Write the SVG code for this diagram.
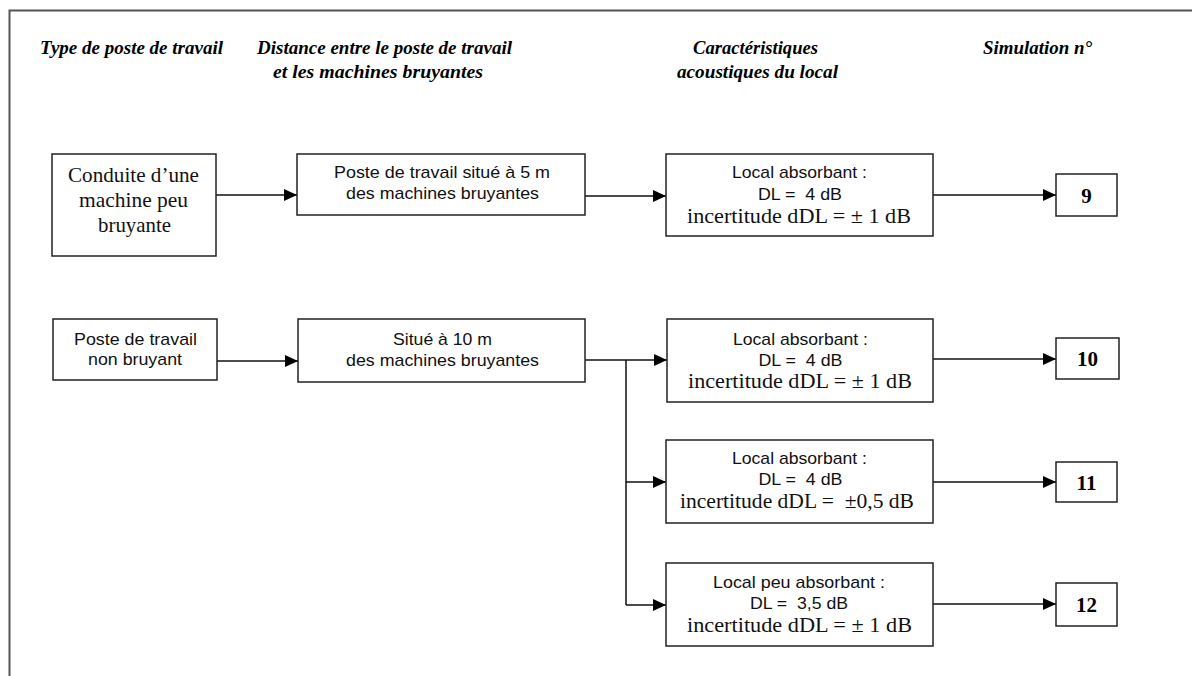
<svg xmlns="http://www.w3.org/2000/svg" width="1192" height="676" viewBox="0 0 1192 676">
<style>
.bg{fill:#fff}
.frame{stroke:#555;stroke-width:2;fill:none}
.box{fill:#fff;stroke:#222;stroke-width:1.5}
.hdr{font-family:"Liberation Serif",serif;font-weight:bold;font-style:italic;font-size:19.5px;fill:#000;text-anchor:middle}
.sans{font-family:"Liberation Sans",Arial,sans-serif;font-size:17px;fill:#111;text-anchor:middle}
.serif{font-family:"Liberation Serif",serif;font-size:21px;fill:#111;text-anchor:middle}
.num{font-family:"Liberation Serif",serif;font-weight:bold;font-size:21px;fill:#000;text-anchor:middle}
.conn{stroke:#111;stroke-width:1.5;fill:none}
.arr{marker-end:url(#ah)}
</style>
<defs>
<marker id="ah" markerUnits="userSpaceOnUse" markerWidth="14" markerHeight="12" refX="13" refY="6" orient="auto">
<path d="M0,0 L13,6 L0,12 Z" fill="#000"/>
</marker>
</defs>
<rect class="bg" x="0" y="0" width="1192" height="676"/>
<path class="frame" d="M9.5,676 L9.5,10.5 L1192,10.5"/>

<g id="headers">
<text class="hdr" x="131.5" y="54" textLength="183" lengthAdjust="spacingAndGlyphs">Type de poste de travail</text>
<text class="hdr" x="384.5" y="54" textLength="255" lengthAdjust="spacingAndGlyphs">Distance entre le poste de travail</text>
<text class="hdr" x="378" y="78" textLength="210" lengthAdjust="spacingAndGlyphs">et les machines bruyantes</text>
<text class="hdr" x="755.5" y="54" textLength="125" lengthAdjust="spacingAndGlyphs">Caractéristiques</text>
<text class="hdr" x="757.5" y="78" textLength="161" lengthAdjust="spacingAndGlyphs">acoustiques du local</text>
<text class="hdr" x="1037.5" y="54" textLength="109" lengthAdjust="spacingAndGlyphs">Simulation n°</text>
</g>

<g id="connectors">
<path class="conn arr" d="M216,195 L297,195"/>
<path class="conn arr" d="M585,196 L666,196"/>
<path class="conn arr" d="M933,195 L1056,195"/>
<path class="conn arr" d="M217,361 L298,361"/>
<path class="conn arr" d="M585,360 L667,360"/>
<path class="conn" d="M626,360 L626,605"/>
<path class="conn arr" d="M626,482 L666,482"/>
<path class="conn arr" d="M626,605 L666,605"/>
<path class="conn arr" d="M933,359 L1056,359"/>
<path class="conn arr" d="M933,482 L1056,482"/>
<path class="conn arr" d="M933,604 L1056,604"/>
</g>

<g id="n-conduite">
<rect class="box" x="52" y="154" width="164" height="102"/>
<text class="serif" x="133.5" y="182" textLength="131" lengthAdjust="spacingAndGlyphs">Conduite d’une</text>
<text class="serif" x="133.5" y="207" textLength="109" lengthAdjust="spacingAndGlyphs">machine peu</text>
<text class="serif" x="134.5" y="232" textLength="73" lengthAdjust="spacingAndGlyphs">bruyante</text>
</g>

<g id="n-poste5m">
<rect class="box" x="297" y="154" width="288" height="61"/>
<text class="sans" x="442" y="178" textLength="216" lengthAdjust="spacingAndGlyphs">Poste de travail situé à 5 m</text>
<text class="sans" x="442.5" y="199" textLength="193" lengthAdjust="spacingAndGlyphs">des machines bruyantes</text>
</g>

<g id="n-local1">
<rect class="box" x="666" y="154" width="267" height="82"/>
<text class="sans" x="799.5" y="178" textLength="135" lengthAdjust="spacingAndGlyphs">Local absorbant :</text>
<text class="sans" x="800" y="200" textLength="84" lengthAdjust="spacingAndGlyphs">DL = &#160;4 dB</text>
<text class="serif" x="799" y="223" textLength="224" lengthAdjust="spacingAndGlyphs">incertitude dDL = ± 1 dB</text>
</g>

<g id="n-sim9">
<rect class="box" x="1056" y="174" width="61" height="42"/>
<text class="num" x="1086.5" y="203">9</text>
</g>

<g id="n-nonbruyant">
<rect class="box" x="53" y="319" width="164" height="61"/>
<text class="sans" x="135.5" y="345" textLength="123" lengthAdjust="spacingAndGlyphs">Poste de travail</text>
<text class="sans" x="135" y="365" textLength="94" lengthAdjust="spacingAndGlyphs">non bruyant</text>
</g>

<g id="n-situe10m">
<rect class="box" x="298" y="319" width="287" height="63"/>
<text class="sans" x="442.5" y="345" textLength="99" lengthAdjust="spacingAndGlyphs">Situé à 10 m</text>
<text class="sans" x="442.5" y="366" textLength="193" lengthAdjust="spacingAndGlyphs">des machines bruyantes</text>
</g>

<g id="n-local2">
<rect class="box" x="667" y="319" width="266" height="83"/>
<text class="sans" x="800.5" y="345" textLength="135" lengthAdjust="spacingAndGlyphs">Local absorbant :</text>
<text class="sans" x="800.5" y="366" textLength="84" lengthAdjust="spacingAndGlyphs">DL = &#160;4 dB</text>
<text class="serif" x="800" y="388" textLength="224" lengthAdjust="spacingAndGlyphs">incertitude dDL = ± 1 dB</text>
</g>

<g id="n-sim10">
<rect class="box" x="1056" y="338" width="63" height="41"/>
<text class="num" x="1087.5" y="366">10</text>
</g>

<g id="n-local3">
<rect class="box" x="666" y="440" width="267" height="83"/>
<text class="sans" x="799.5" y="464" textLength="135" lengthAdjust="spacingAndGlyphs">Local absorbant :</text>
<text class="sans" x="800.5" y="485" textLength="84" lengthAdjust="spacingAndGlyphs">DL = &#160;4 dB</text>
<text class="serif" x="797" y="508" textLength="234" lengthAdjust="spacingAndGlyphs">incertitude dDL = &#160;±0,5 dB</text>
</g>

<g id="n-sim11">
<rect class="box" x="1056" y="462" width="61" height="40"/>
<text class="num" x="1086.5" y="490">11</text>
</g>

<g id="n-local4">
<rect class="box" x="666" y="563" width="267" height="83"/>
<text class="sans" x="799" y="588" textLength="172" lengthAdjust="spacingAndGlyphs">Local peu absorbant :</text>
<text class="sans" x="799" y="609" textLength="98" lengthAdjust="spacingAndGlyphs">DL = &#160;3,5 dB</text>
<text class="serif" x="799.5" y="632" textLength="225" lengthAdjust="spacingAndGlyphs">incertitude dDL = ± 1 dB</text>
</g>

<g id="n-sim12">
<rect class="box" x="1056" y="583" width="61" height="43"/>
<text class="num" x="1086.5" y="612">12</text>
</g>
</svg>
